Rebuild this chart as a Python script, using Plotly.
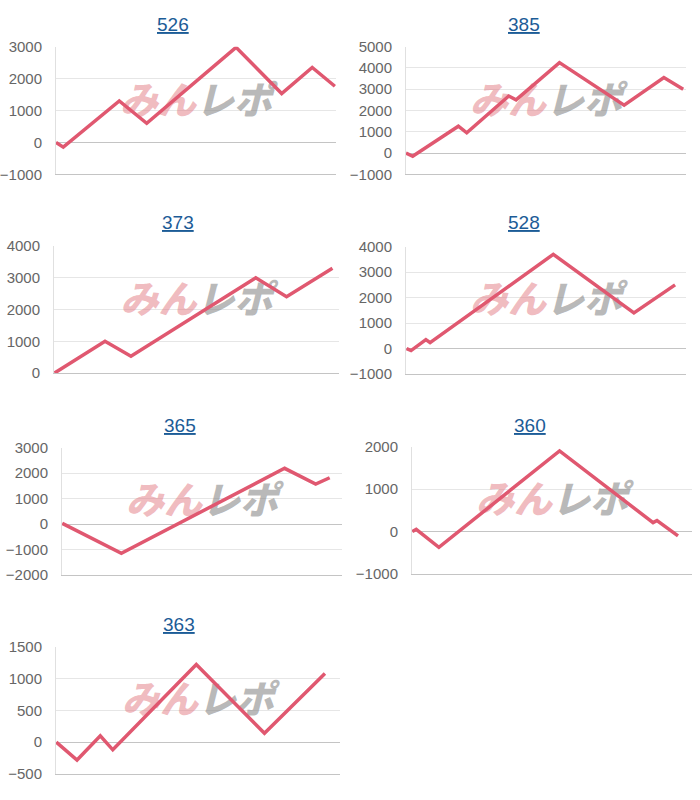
import plotly.graph_objects as go

# ---- data ----
titles = ["526", "385", "373", "528", "365", "360", "363"]

x_526 = [0, 2.6, 22.6, 32.4, 64.3, 80.6, 91.5, 99.6]
y_526 = [0, -150, 1300, 600, 2980, 1530, 2350, 1760]

x_385 = [0, 2.4, 18.7, 21.7, 36.7, 39.3, 54.8, 77.9, 92.1, 99.0]
y_385 = [0, -150, 1260, 950, 2680, 2500, 4250, 2250, 3550, 3000]

x_373 = [0.2, 17.9, 27.0, 70.8, 81.6, 97.7]
y_373 = [0, 1000, 530, 3000, 2400, 3300]

x_528 = [0.2, 1.8, 7.1, 8.6, 52.6, 81.4, 96.1]
y_528 = [0, -80, 350, 230, 3700, 1400, 2500]

x_365 = [0.1, 21.2, 79.5, 90.6, 95.6]
y_365 = [30, -1150, 2190, 1570, 1820]

x_360 = [0.1, 1.5, 9.6, 52.7, 86.1, 87.5, 95.0]
y_360 = [0, 50, -370, 1900, 210, 260, -100]

x_363 = [0.1, 7.4, 15.6, 20.0, 49.4, 73.4, 94.7]
y_363 = [0, -280, 100, -120, 1220, 140, 1080]

xs = [x_526, x_385, x_373, x_528, x_365, x_360, x_363]
ys = [y_526, y_385, y_373, y_528, y_365, y_360, y_363]

y_ranges = [[-1000, 3000], [-1000, 5000], [0, 4000], [-1000, 4000],
            [-2000, 3000], [-1000, 2000], [-500, 1500]]
y_dticks = [1000, 1000, 1000, 1000, 1000, 1000, 500]

# ---- layout geometry (pixels) ----
W, H = 700, 800
plot_x = [(56, 336), (406, 686), (54, 339), (406, 686), (62, 342), (412, 692), (56, 340)]
plot_y = [(46.7, 174.3), (46.7, 174.3), (246, 373), (246.7, 374), (447.7, 575), (446.7, 574), (646.7, 774)]
title_pos = [(173, 24.5), (524, 24.5), (178, 222.5), (524, 222.5), (180, 425.5), (530, 425.5), (179, 624.5)]

LINE = "#e05870"
TICK_FONT = dict(family="Liberation Sans, Arial, sans-serif", size=15, color="#666666")

fig = go.Figure()
layout = dict(
    width=W, height=H, margin=dict(l=0, r=0, t=0, b=0, autoexpand=False),
    paper_bgcolor="white", plot_bgcolor="white", showlegend=False,
    annotations=[],
)

for i in range(7):
    n = i + 1
    xa = "x" if n == 1 else f"x{n}"
    ya = "y" if n == 1 else f"y{n}"
    lo, hi = y_ranges[i]
    # watermark (drawn first so the line sits on top)
    fig.add_trace(go.Scatter(
        x=[50], y=[lo + 0.55 * (hi - lo)], mode="text",
        text=["<i><span style='color:rgba(228,130,138,0.55)'>みん</span>"
              "<span style='color:rgba(125,125,125,0.55)'>レポ</span></i>"],
        textfont=dict(family="Noto Sans CJK JP", size=38, weight=900),
        hoverinfo="skip", xaxis=xa, yaxis=ya,
    ))
    fig.add_trace(go.Scatter(
        x=xs[i], y=ys[i], mode="lines",
        line=dict(color=LINE, width=3.5),
        xaxis=xa, yaxis=ya,
    ))
    x0, x1 = plot_x[i]
    y0, y1 = plot_y[i]
    layout["xaxis" if n == 1 else f"xaxis{n}"] = dict(
        domain=[x0 / W, x1 / W], range=[0, 100], anchor=ya,
        showgrid=False, zeroline=False, showticklabels=False,
        showline=True, linecolor="#c4c4c4", linewidth=1, fixedrange=True,
    )
    layout["yaxis" if n == 1 else f"yaxis{n}"] = dict(
        domain=[1 - y1 / H, 1 - y0 / H], range=[lo, hi], dtick=y_dticks[i],
        anchor=xa, showgrid=True, gridcolor="#e6e6e6", gridwidth=1,
        zeroline=True, zerolinecolor="#c4c4c4", zerolinewidth=1,
        showline=True, linecolor="#e0e0e0", linewidth=1,
        tickfont=TICK_FONT, ticks="", ticklabelstandoff=10, fixedrange=True,
    )
    tx, ty = title_pos[i]
    layout["annotations"].append(dict(
        x=tx / W, y=1 - ty / H, xref="paper", yref="paper",
        text=f"<u>{titles[i]}</u>", showarrow=False,
        font=dict(family="Liberation Sans, Arial, sans-serif", size=19, color="#1c5c97"),
        xanchor="center", yanchor="middle",
    ))

fig.update_layout(**layout)
fig.write_html(
    "out.html",
    post_script=(
        "document.documentElement.style.margin='0';"
        "document.body.style.margin='0';document.body.style.padding='0';"
        "document.documentElement.style.overflow='hidden';"
        "Plotly.relayout('{plot_id}', {'paper_bgcolor':'#ffffff'});"
    ),
)
